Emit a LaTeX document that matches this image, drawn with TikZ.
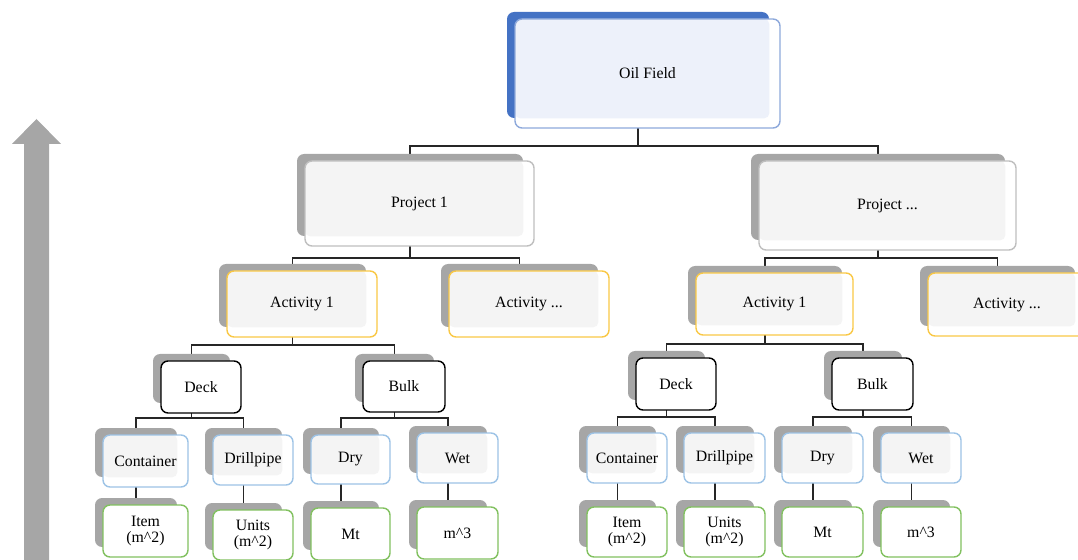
\documentclass[tikz,border=0pt]{standalone}
\usepackage{fontspec}
\setmainfont{Liberation Serif}
\usepackage{tikz}
\usetikzlibrary{backgrounds}

\definecolor{shadegray}{HTML}{A6A6A6}
\definecolor{fieldblue}{HTML}{4472C4}
\definecolor{fieldline}{HTML}{8EA9DB}
\definecolor{fieldtint}{HTML}{EDF1FA}
\definecolor{plainline}{HTML}{BFBFBF}
\definecolor{plaintint}{HTML}{F4F4F4}
\definecolor{goldline}{HTML}{F9C846}
\definecolor{skyline}{HTML}{9DC3E6}
\definecolor{leafline}{HTML}{82C160}

% one chart box: a shaded back plate and the face in front of it
% #1 name, #2 #3 centre of the face, #4 #5 size of the face, #6 kind, #7 text
\newcommand{\orgbox}[7]{%
  \node[back, #6 back, minimum width={(#4-3)*0.02cm}, minimum height={(#5-3)*0.02cm}]
    (#1-b) at (#2-9.5,#3-8.5) {};
  \node[face, #6 face, minimum width={#4*0.02cm}, minimum height={#5*0.02cm},
    path picture={\fill[#6 tint, rounded corners=3pt]
      (path picture bounding box.north west) rectangle (#1-b.south east);}]
    (#1) at (#2,#3) {#7};
}

\tikzset{
  back/.style={rectangle, rounded corners=4pt, inner sep=0pt, fill=shadegray},
  face/.style={rectangle, rounded corners=4pt, inner sep=0pt, fill=white,
    line width=0.8pt, align=center, font=\fontsize{9}{9.6}\selectfont},
  field back/.style={fill=fieldblue},
  field face/.style={draw=fieldline},
  field tint/.style={fill=fieldtint},
  project back/.style={},
  project face/.style={draw=plainline},
  project tint/.style={fill=plaintint},
  activity back/.style={},
  activity face/.style={draw=goldline},
  activity tint/.style={fill=plaintint},
  cargo back/.style={},
  cargo face/.style={draw=black},
  cargo tint/.style={fill=white},
  load back/.style={},
  load face/.style={draw=skyline},
  load tint/.style={fill=plaintint},
  unit back/.style={},
  unit face/.style={draw=leafline},
  unit tint/.style={fill=white},
  fork/.style={to path={(\tikztostart) -- ++(0,#1) -| (\tikztotarget)}},
  link/.style={draw=black!85, line width=0.6pt}
}

\begin{document}
\begin{tikzpicture}[x=0.02cm, y=-0.02cm]
  \useasboundingbox (0,0) rectangle (1078,560);

  % top of the hierarchy
  \orgbox{field}{647.5}{73.5}{265}{109}{field}{Oil Field}
  \orgbox{proj1}{419.5}{203.5}{229}{85}{project}{Project 1}
  \orgbox{projx}{887.5}{205.5}{257}{89}{project}{Project ...}

  % activities
  \orgbox{actLa}{302}{304}{150}{66}{activity}{Activity 1}
  \orgbox{actLx}{529}{304}{160}{66}{activity}{Activity ...}
  \orgbox{actRa}{774.5}{304}{157}{62}{activity}{Activity 1}
  \orgbox{actRx}{1007}{304.5}{158}{63}{activity}{Activity ...}

  % cargo groups
  \orgbox{deckL}{201}{387}{80}{52}{cargo}{Deck}
  \orgbox{bulkL}{404}{386.5}{82}{51}{cargo}{Bulk}
  \orgbox{deckR}{676}{384}{80}{52}{cargo}{Deck}
  \orgbox{bulkR}{872.5}{384}{81}{52}{cargo}{Bulk}

  % cargo types
  \orgbox{contL}{145.5}{461}{85}{52}{load}{Container}
  \orgbox{pipeL}{253}{460}{80}{50}{load}{Drillpipe}
  \orgbox{dryL}{350.5}{459.5}{79}{49}{load}{Dry}
  \orgbox{wetL}{457.5}{458}{81}{50}{load}{Wet}
  \orgbox{contR}{627}{458}{80}{50}{load}{Container}
  \orgbox{pipeR}{724.5}{458}{81}{50}{load}{Drillpipe}
  \orgbox{dryR}{822.5}{458}{81}{50}{load}{Dry}
  \orgbox{wetR}{921}{458}{80}{50}{load}{Wet}

  % units of measure
  \orgbox{itemL}{145.5}{531}{85}{52}{unit}{Item\\(m\textasciicircum 2)}
  \orgbox{unitsL}{253}{535}{80}{50}{unit}{Units\\(m\textasciicircum 2)}
  \orgbox{mtL}{350.5}{534}{79}{52}{unit}{Mt}
  \orgbox{cubeL}{457.5}{533}{81}{52}{unit}{m\textasciicircum 3}
  \orgbox{itemR}{627}{532}{80}{50}{unit}{Item\\(m\textasciicircum 2)}
  \orgbox{unitsR}{724.5}{532}{81}{50}{unit}{Units\\(m\textasciicircum 2)}
  \orgbox{mtR}{822.5}{532}{81}{50}{unit}{Mt}
  \orgbox{cubeR}{921}{532}{80}{50}{unit}{m\textasciicircum 3}

  \begin{scope}[on background layer]
    % connectors run behind the boxes
    \path[link]
      (field-b.center) edge[fork=81]   (proj1-b.center)
                       edge[fork=81]   (projx-b.center)
      (proj1-b.center) edge[fork=63]   (actLa-b.center)
                       edge[fork=63]   (actLx-b.center)
      (projx-b.center) edge[fork=61]   (actRa-b.center)
                       edge[fork=61]   (actRx-b.center)
      (actLa-b.center) edge[fork=49.5] (deckL-b.center)
                       edge[fork=49.5] (bulkL-b.center)
      (actRa-b.center) edge[fork=48.5] (deckR-b.center)
                       edge[fork=48.5] (bulkR-b.center)
      (deckL-b.center) edge[fork=39.5] (contL-b.center)
                       edge[fork=39.5] (pipeL-b.center)
      (bulkL-b.center) edge[fork=40]   (dryL-b.center)
                       edge[fork=40]   (wetL-b.center)
      (deckR-b.center) edge[fork=41.5] (contR-b.center)
                       edge[fork=41.5] (pipeR-b.center)
      (bulkR-b.center) edge[fork=41.5] (dryR-b.center)
                       edge[fork=41.5] (wetR-b.center)
      (contL-b.center) edge (itemL-b.center)
      (pipeL-b.center) edge (unitsL-b.center)
      (dryL-b.center)  edge (mtL-b.center)
      (wetL-b.center)  edge (cubeL-b.center)
      (contR-b.center) edge (itemR-b.center)
      (pipeR-b.center) edge (unitsR-b.center)
      (dryR-b.center)  edge (mtR-b.center)
      (wetR-b.center)  edge (cubeR-b.center);
  \end{scope}

  % upward arrow along the left side
  \fill[shadegray] (24,560) -- (24,144) -- (12,144) -- (36.5,119)
    -- (61,144) -- (49,144) -- (49,560) -- cycle;
\end{tikzpicture}
\end{document}
